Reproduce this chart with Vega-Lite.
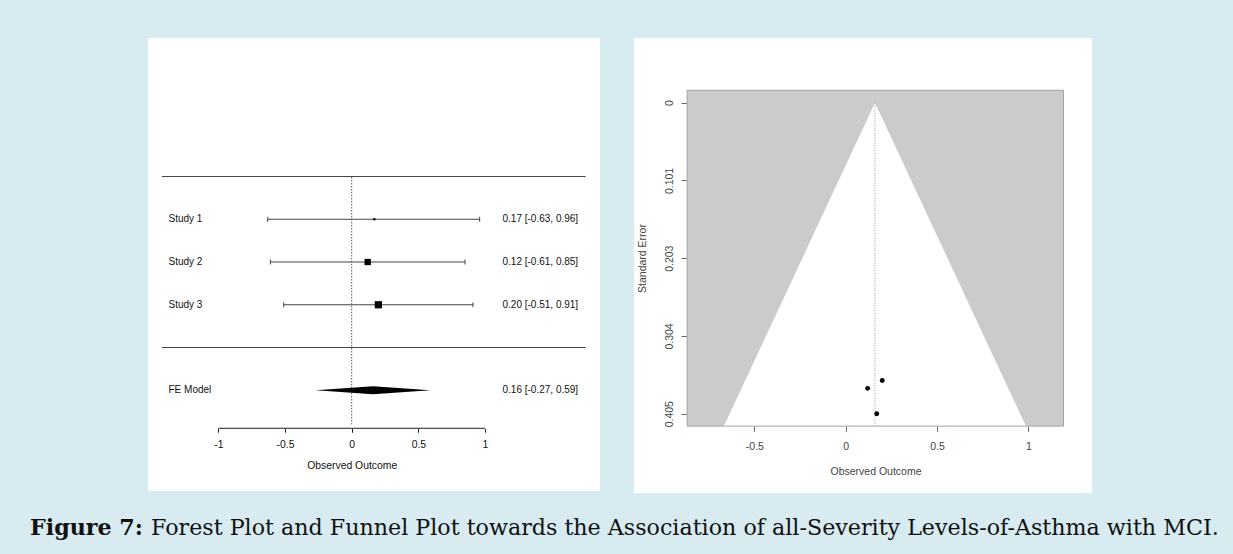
{
  "$schema": "https://vega.github.io/schema/vega-lite/v6.json",
  "background": "#d7ebf1",
  "padding": {"left": 30, "top": 38, "right": 16, "bottom": 14},
  "autosize": {"type": "pad"},
  "bounds": "flush",
  "spacing": 34,
  "config": {
    "view": {"stroke": null},
    "font": "Liberation Sans",
    "axis": {"grid": false, "labelFont": "Liberation Sans", "titleFont": "Liberation Sans"}
  },
  "datasets": {
    "forest": [
      {"study": "Study 1", "kind": "study", "row": 3, "est": 0.17, "lower": -0.63, "upper": 0.96, "se": 0.4054, "weight": 29.1, "ci": "0.17 [-0.63, 0.96]"},
      {"study": "Study 2", "kind": "study", "row": 2, "est": 0.12, "lower": -0.61, "upper": 0.85, "se": 0.3724, "weight": 34.5, "ci": "0.12 [-0.61, 0.85]"},
      {"study": "Study 3", "kind": "study", "row": 1, "est": 0.20, "lower": -0.51, "upper": 0.91, "se": 0.3622, "weight": 36.4, "ci": "0.20 [-0.51, 0.91]"},
      {"study": "FE Model", "kind": "pooled", "row": -1, "est": 0.16, "lower": -0.27, "upper": 0.59, "ci": "0.16 [-0.27, 0.59]"}
    ],
    "diamond": [
      {"x": -0.27, "ylo": -1, "yhi": -1},
      {"x": 0.16, "ylo": -1.095, "yhi": -0.905},
      {"x": 0.59, "ylo": -1, "yhi": -1}
    ],
    "separators": [{"sep": 4}, {"sep": 0}],
    "region": [
      {"se": 0, "lb": 0.16, "ub": 0.16},
      {"se": 0.42162, "lb": -0.6664, "ub": 0.9864}
    ]
  },
  "hconcat": [
    {
      "width": 452,
      "height": 453,
      "view": {"fill": "white", "stroke": null},
      "title": {"text": "Figure 7:", "orient": "bottom", "anchor": "start", "frame": "group", "offset": 44, "dx": -118, "baseline": "alphabetic", "font": "DejaVu Serif", "fontSize": 22.2, "fontWeight": "bold", "color": "#111"},
      "layer": [
        {
          "data": {"values": [{}]},
          "mark": {"type": "rule", "color": "#222", "strokeWidth": 1},
          "encoding": {
            "x": {"datum": -1, "type": "quantitative", "scale": {"domain": [-1.528, 1.8627], "nice": false, "zero": false},
              "axis": {"values": [-1, -0.5, 0, 0.5, 1], "offset": -62.7, "domain": false, "tickSize": 4, "tickColor": "#222", "labelColor": "#111", "labelFontSize": 10.4, "labelPadding": 7, "labelFlush": false, "labelOverlap": false, "labelExpr": "(datum.value < 0 ? '-' : '') + format(abs(datum.value), '')", "title": "Observed Outcome", "titleX": 203.7, "titleColor": "#111", "titleFontSize": 10.4, "titleFontWeight": "normal", "titlePadding": 11}},
            "x2": {"datum": 1},
            "y": {"datum": -1.89, "type": "quantitative", "scale": {"domain": [-3.3575, 7.2414], "nice": false, "zero": false}, "axis": null}
          }
        },
        {
          "data": {"name": "separators"},
          "mark": {"type": "rule", "color": "#444", "strokeWidth": 1},
          "encoding": {
            "x": {"datum": -1.423, "type": "quantitative", "scale": {"domain": [-1.528, 1.8627], "nice": false, "zero": false}},
            "x2": {"datum": 1.755},
            "y": {"field": "sep", "type": "quantitative", "scale": {"domain": [-3.3575, 7.2414], "nice": false, "zero": false}, "axis": null}
          }
        },
        {
          "data": {"values": [{}]},
          "mark": {"type": "rule", "color": "#555", "strokeWidth": 1, "strokeDash": [1.5, 1.5]},
          "encoding": {
            "x": {"datum": 0, "type": "quantitative", "scale": {"domain": [-1.528, 1.8627], "nice": false, "zero": false}},
            "y": {"datum": -1.8, "type": "quantitative", "scale": {"domain": [-3.3575, 7.2414], "nice": false, "zero": false}, "axis": null},
            "y2": {"datum": 4}
          }
        },
        {
          "data": {"name": "forest"},
          "transform": [{"filter": "datum.kind === 'study'"}],
          "mark": {"type": "rule", "color": "#444", "strokeWidth": 1},
          "encoding": {
            "x": {"field": "lower", "type": "quantitative", "scale": {"domain": [-1.528, 1.8627], "nice": false, "zero": false}},
            "x2": {"field": "upper"},
            "y": {"field": "row", "type": "quantitative", "scale": {"domain": [-3.3575, 7.2414], "nice": false, "zero": false}, "axis": null}
          }
        },
        {
          "data": {"name": "forest"},
          "transform": [{"filter": "datum.kind === 'study'"}],
          "mark": {"type": "point", "shape": "M0,-1L0,1", "size": 25, "filled": false, "stroke": "#444", "strokeWidth": 1, "opacity": 1},
          "encoding": {
            "x": {"field": "lower", "type": "quantitative", "scale": {"domain": [-1.528, 1.8627], "nice": false, "zero": false}},
            "y": {"field": "row", "type": "quantitative", "scale": {"domain": [-3.3575, 7.2414], "nice": false, "zero": false}, "axis": null}
          }
        },
        {
          "data": {"name": "forest"},
          "transform": [{"filter": "datum.kind === 'study'"}],
          "mark": {"type": "point", "shape": "M0,-1L0,1", "size": 25, "filled": false, "stroke": "#444", "strokeWidth": 1, "opacity": 1},
          "encoding": {
            "x": {"field": "upper", "type": "quantitative", "scale": {"domain": [-1.528, 1.8627], "nice": false, "zero": false}},
            "y": {"field": "row", "type": "quantitative", "scale": {"domain": [-3.3575, 7.2414], "nice": false, "zero": false}, "axis": null}
          }
        },
        {
          "data": {"name": "forest"},
          "transform": [{"filter": "datum.kind === 'study'"}],
          "mark": {"type": "point", "shape": "square", "filled": true, "color": "#000", "opacity": 1},
          "encoding": {
            "x": {"field": "est", "type": "quantitative", "scale": {"domain": [-1.528, 1.8627], "nice": false, "zero": false}},
            "y": {"field": "row", "type": "quantitative", "scale": {"domain": [-3.3575, 7.2414], "nice": false, "zero": false}, "axis": null},
            "size": {"field": "weight", "type": "quantitative", "scale": {"domain": [29.1, 36.4], "range": [5, 52], "zero": false}, "legend": null}
          }
        },
        {
          "data": {"name": "diamond"},
          "mark": {"type": "area", "orient": "vertical", "color": "#000", "opacity": 1},
          "encoding": {
            "x": {"field": "x", "type": "quantitative", "scale": {"domain": [-1.528, 1.8627], "nice": false, "zero": false}},
            "y": {"field": "ylo", "type": "quantitative", "scale": {"domain": [-3.3575, 7.2414], "nice": false, "zero": false}, "axis": null},
            "y2": {"field": "yhi"}
          }
        },
        {
          "data": {"name": "forest"},
          "mark": {"type": "text", "align": "left", "baseline": "middle", "dx": 6.5, "fontSize": 10, "color": "#111"},
          "encoding": {
            "x": {"datum": -1.423, "type": "quantitative", "scale": {"domain": [-1.528, 1.8627], "nice": false, "zero": false}},
            "y": {"field": "row", "type": "quantitative", "scale": {"domain": [-3.3575, 7.2414], "nice": false, "zero": false}, "axis": null},
            "text": {"field": "study"}
          }
        },
        {
          "data": {"name": "forest"},
          "mark": {"type": "text", "align": "right", "baseline": "middle", "dx": -7.5, "fontSize": 10, "color": "#111"},
          "encoding": {
            "x": {"datum": 1.755, "type": "quantitative", "scale": {"domain": [-1.528, 1.8627], "nice": false, "zero": false}},
            "y": {"field": "row", "type": "quantitative", "scale": {"domain": [-3.3575, 7.2414], "nice": false, "zero": false}, "axis": null},
            "text": {"field": "ci"}
          }
        }
      ]
    },
    {
      "width": 458,
      "height": 455,
      "view": {"fill": "white", "stroke": null},
      "title": {"text": "Forest Plot and Funnel Plot towards the Association of all-Severity Levels-of-Asthma with MCI.", "orient": "bottom", "anchor": "start", "frame": "group", "offset": 42, "dx": -483, "baseline": "alphabetic", "font": "DejaVu Serif", "fontSize": 22.2, "fontWeight": "normal", "color": "#111"},
      "layer": [
        {
          "data": {"values": [{}]},
          "mark": {"type": "rect", "color": "#cbcbcb", "opacity": 1},
          "encoding": {
            "x": {"datum": -0.868, "type": "quantitative", "scale": {"domain": [-1.1587, 1.3481], "nice": false, "zero": false},
              "axis": {"values": [-0.5, 0, 0.5, 1], "offset": -66.7, "domain": false, "tickSize": 5, "tickColor": "#666", "labelColor": "#444", "labelFontSize": 10.5, "labelPadding": 10, "labelFlush": false, "labelOverlap": false, "labelExpr": "(datum.value < 0 ? '-' : '') + format(abs(datum.value), '')", "title": "Observed Outcome", "titleX": 241.5, "titleColor": "#444", "titleFontSize": 10.5, "titleFontWeight": "normal", "titlePadding": 15}},
            "x2": {"datum": 1.192},
            "y": {"datum": -0.01622, "type": "quantitative", "scale": {"domain": [-0.08434, 0.5088], "nice": false, "zero": false, "reverse": true},
              "axis": {"values": [0, 0.10135, 0.2027, 0.30405, 0.4054], "offset": -53.1, "domain": false, "tickSize": 6, "tickColor": "#666", "labelColor": "#444", "labelFontSize": 10.5, "labelPadding": 7, "labelAngle": -90, "labelAlign": "center", "labelBaseline": "bottom", "labelFlush": false, "labelOverlap": false, "labelExpr": "datum.value == 0 ? '0' : format(datum.value, '.3f')", "title": "Standard Error", "titleX": -45, "titleY": 220, "titleAngle": -90, "titleAlign": "center", "titleBaseline": "middle", "titleColor": "#444", "titleFontSize": 10.5, "titleFontWeight": "normal"}},
            "y2": {"datum": 0.42162}
          }
        },
        {
          "data": {"name": "region"},
          "mark": {"type": "area", "orient": "horizontal", "color": "#ffffff", "opacity": 1},
          "encoding": {
            "x": {"field": "lb", "type": "quantitative", "scale": {"domain": [-1.1587, 1.3481], "nice": false, "zero": false}},
            "x2": {"field": "ub"},
            "y": {"field": "se", "type": "quantitative", "scale": {"domain": [-0.08434, 0.5088], "nice": false, "zero": false, "reverse": true}}
          }
        },
        {
          "data": {"values": [{}]},
          "mark": {"type": "rect", "filled": false, "stroke": "#a3a3a3", "strokeWidth": 1},
          "encoding": {
            "x": {"datum": -0.868, "type": "quantitative", "scale": {"domain": [-1.1587, 1.3481], "nice": false, "zero": false}},
            "x2": {"datum": 1.192},
            "y": {"datum": -0.01622, "type": "quantitative", "scale": {"domain": [-0.08434, 0.5088], "nice": false, "zero": false, "reverse": true}},
            "y2": {"datum": 0.42162}
          }
        },
        {
          "data": {"values": [{}]},
          "mark": {"type": "rule", "color": "#999", "strokeWidth": 1, "strokeDash": [1, 1.5]},
          "encoding": {
            "x": {"datum": 0.16, "type": "quantitative", "scale": {"domain": [-1.1587, 1.3481], "nice": false, "zero": false}},
            "y": {"datum": 0, "type": "quantitative", "scale": {"domain": [-0.08434, 0.5088], "nice": false, "zero": false, "reverse": true}},
            "y2": {"datum": 0.42162}
          }
        },
        {
          "data": {"name": "forest"},
          "transform": [{"filter": "datum.kind === 'study'"}],
          "mark": {"type": "point", "shape": "circle", "filled": true, "color": "#000", "size": 24, "opacity": 1},
          "encoding": {
            "x": {"field": "est", "type": "quantitative", "scale": {"domain": [-1.1587, 1.3481], "nice": false, "zero": false}},
            "y": {"field": "se", "type": "quantitative", "scale": {"domain": [-0.08434, 0.5088], "nice": false, "zero": false, "reverse": true}}
          }
        }
      ]
    }
  ]
}
